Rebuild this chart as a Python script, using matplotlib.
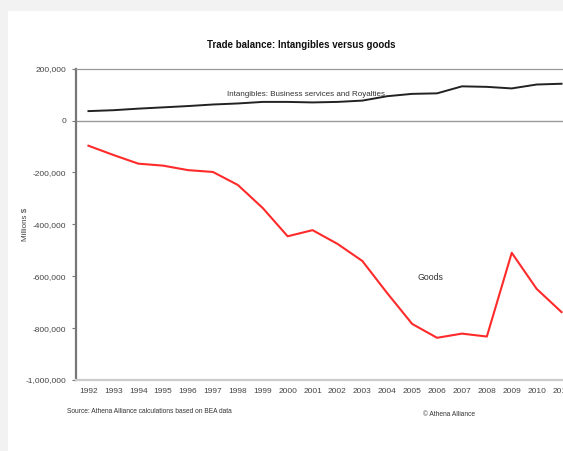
import matplotlib
matplotlib.use('Agg')
import matplotlib.pyplot as plt
from matplotlib.patches import Rectangle
from matplotlib.ticker import FuncFormatter

plt.rcParams['font.family'] = ['Liberation Sans', 'DejaVu Sans']

years = list(range(1992, 2012))
intangibles = [36500, 40000, 46000, 51000, 56000, 62000, 66000, 72000, 72000, 70000,
               72000, 77000, 94000, 103000, 105000, 132000, 130000, 124000, 139000, 142000]
goods = [-96900, -132500, -166000, -173700, -191000, -198100, -248200, -337100, -446000, -422400,
         -475200, -541200, -665400, -783800, -837300, -821200, -832500, -509700, -648700, -738300]
yticks = [200000, 0, -200000, -400000, -600000, -800000, -1000000]

W, H = 563, 451
fig = plt.figure(figsize=(W / 100, H / 100), dpi=100)
fig.patch.set_facecolor('#f2f2f2')
fig.patches.append(Rectangle((8 / W, 0), 1, (H - 11) / H, transform=fig.transFigure,
                             facecolor='white', edgecolor='none', zorder=-5))

# plot area runs past the right edge, so the last year is cut off
left, right, top, bottom = 76, 574, 68.7, 380
ax = fig.add_axes([left / W, (H - bottom) / H, (right - left) / W, (bottom - top) / H])
ax.set_zorder(1)
ax.set_facecolor('white')

ax.plot(years, intangibles, color='#222222', lw=1.4, zorder=3)
ax.plot(years, goods, color='#ff2a2a', lw=1.5, zorder=3)
ax.axhline(0, color='#999999', lw=1.0, zorder=2)

ax.set_xlim(1991.5, 2011.5)
ax.set_ylim(-1000000, 200000)
ax.set_xticks(years)
ax.set_xticklabels([str(y) for y in years])
ax.set_yticks(yticks)
ax.yaxis.set_major_formatter(FuncFormatter(lambda v, p: f'{int(v):,}'))

ax.spines['right'].set_visible(False)
ax.spines['left'].set_color('#777777')
ax.spines['left'].set_linewidth(1.6)
ax.spines['top'].set_color('#999999')
ax.spines['top'].set_linewidth(0.9)
ax.spines['bottom'].set_color('#cccccc')
ax.spines['bottom'].set_linewidth(1.6)

ax.tick_params(axis='y', length=3, width=0.8, color='#777777', labelsize=6,
               labelcolor='#444444', pad=4)
ax.tick_params(axis='x', length=0, labelsize=6, labelcolor='#444444', pad=6)

fig.text(25 / W, 1 - 224 / H, 'Millions $', rotation=90, ha='center', va='center',
         fontsize=5.8, color='#444444')
fig.text(301 / W, 1 - 45.5 / H, 'Trade balance: Intangibles versus goods',
         ha='center', va='center', fontsize=7, fontweight='bold', color='#111111')
fig.text(306 / W, 1 - 95 / H, 'Intangibles: Business services and Royalties',
         ha='center', va='center', fontsize=5.8, color='#333333', zorder=5)
fig.text(430 / W, 1 - 277 / H, 'Goods', ha='center', va='center', fontsize=6.3,
         color='#333333', zorder=5)
fig.text(67 / W, 1 - 411.5 / H, 'Source: Athena Alliance calculations based on BEA data',
         ha='left', va='center', fontsize=4.8, color='#333333')
fig.text(423 / W, 1 - 415 / H, '\u00a9 Athena Alliance', ha='left', va='center',
         fontsize=4.8, color='#333333')

fig.savefig('out.png', dpi=100)
